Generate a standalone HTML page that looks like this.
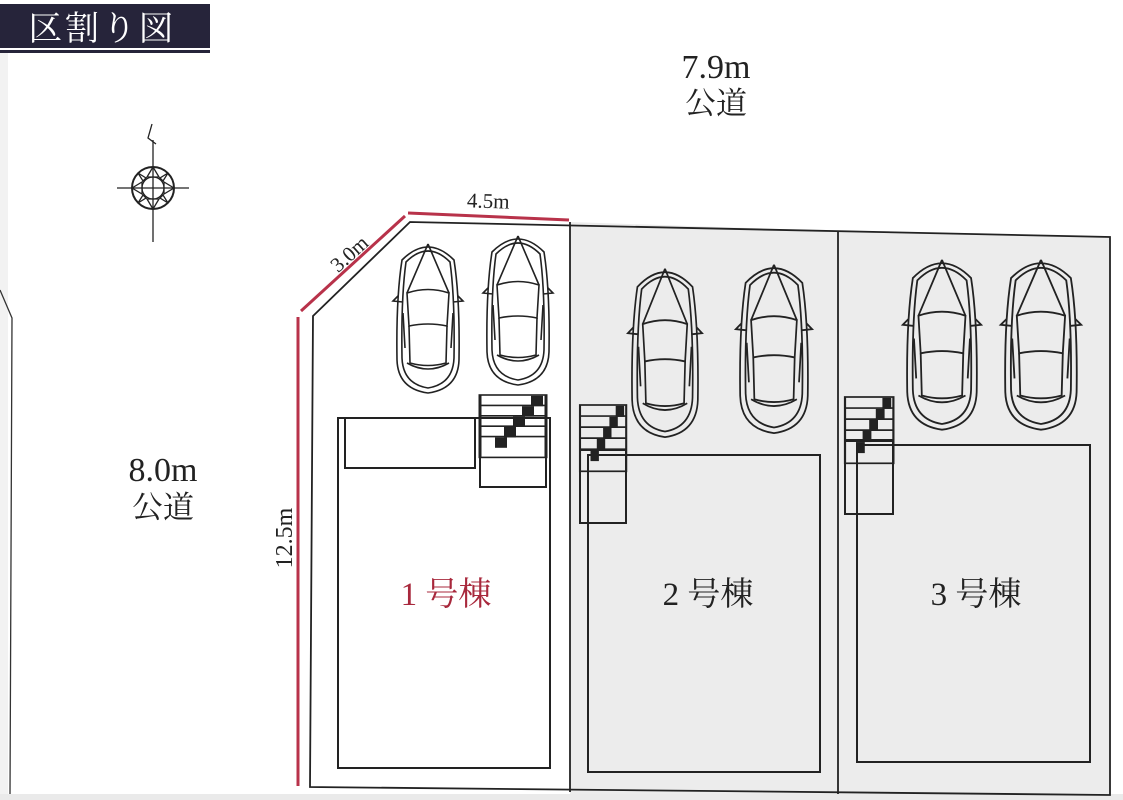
<!DOCTYPE html>
<html><head><meta charset="utf-8"><style>
html,body{margin:0;padding:0;background:#fff;width:1123px;height:800px;overflow:hidden}
svg text{font-family:"Liberation Serif","Noto Serif CJK SC",serif}
.cj{font-family:"Liberation Serif","Noto Serif CJK JP",serif}
</style></head><body>
<svg width="1123" height="800" viewBox="0 0 1123 800" xmlns="http://www.w3.org/2000/svg">
<defs>
<g id="car" fill="none" stroke="#222" stroke-width="1.6">
  <path d="M7,22 Q33,-4 59,22 Q65,60 64,122 Q63,151 33,155 Q3,151 2,122 Q1,60 7,22 Z"/>
  <path d="M11,24 Q33,2 55,24 Q60,60 59,120 Q58,146 33,150 Q8,146 7,120 Q6,60 11,24 Z"/>
  <path d="M33,6 L12,55 M33,6 L54,55"/>
  <path d="M12,55 Q33,48 54,55 L52,88 Q33,84 14,88 Z"/>
  <path d="M14,88 L15,125 Q33,130 51,125 L52,88"/>
  <path d="M12,125 Q33,137 54,125"/>
  <path d="M3,58 L-2,63 L8,64 M63,58 L68,63 L58,64"/>
  <path d="M8,75 L10,110 M58,75 L56,110"/>
</g>
<g id="stairs" fill="none" stroke="#222" stroke-width="2">
  <rect x="0" y="0" width="44" height="78"/>
  <line x1="0" y1="13" x2="44" y2="13"/><line x1="0" y1="26" x2="44" y2="26"/>
  <line x1="0" y1="39" x2="44" y2="39"/><line x1="0" y1="52" x2="44" y2="52"/>
  <rect x="35" y="2" width="6" height="11" fill="#222"/>
  <rect x="29" y="15" width="6" height="11" fill="#222"/>
  <rect x="23" y="28" width="6" height="11" fill="#222"/>
  <rect x="17" y="41" width="6" height="11" fill="#222"/>
  <rect x="11" y="54" width="6" height="11" fill="#222"/>
</g>
</defs>

<rect x="0" y="0" width="8" height="800" fill="#f2f2f2"/>
<path d="M0,290 L12,318 L10,795" fill="none" stroke="#333" stroke-width="1.3"/>
<rect x="0" y="794" width="1123" height="6" fill="#eaeaea"/>

<rect x="0" y="0" width="210" height="52" fill="#fff"/>
<rect x="0" y="4" width="210" height="44" fill="#26243a"/>
<rect x="0" y="50" width="210" height="3" fill="#26243a"/>
<text x="28" y="40" font-size="34" fill="#fff" class="cj" style="letter-spacing:3px">区割り図</text>

<g stroke="#222" fill="none" stroke-width="1.3">
  <line x1="153" y1="140" x2="153" y2="242"/>
  <line x1="117" y1="188" x2="189" y2="188"/>
  <circle cx="153" cy="188" r="21" stroke-width="2"/>
  <circle cx="153" cy="188" r="11"/>
  <path d="M153,167 L147,177 L159,177 Z M153,209 L147,199 L159,199 Z M132,188 L142,182 L142,194 Z M174,188 L164,182 L164,194 Z M138,173 L146,178 L143,181 Z M168,173 L160,178 L163,181 Z M138,203 L146,198 L143,195 Z M168,203 L160,198 L163,195 Z"/>
  <path d="M152,124 L148,138 L156,144"/>
</g>

<text x="716" y="78" font-size="34" fill="#222" text-anchor="middle">7.9m</text>
<text x="716" y="114" font-size="31" fill="#222" text-anchor="middle" class="cj">公道</text>
<text x="163" y="481" font-size="34" fill="#222" text-anchor="middle">8.0m</text>
<text x="163" y="518" font-size="31" fill="#222" text-anchor="middle" class="cj">公道</text>

<polygon points="570,222 838,231 838,794 570,794" fill="#ececec"/>
<polygon points="838,231 1110,237 1110,794 838,794" fill="#ececec"/>
<path d="M313,316 L410,222 L1110,237 L1110,795 L310,787 Z" fill="none" stroke="#222" stroke-width="1.8"/>
<line x1="570" y1="222" x2="570" y2="792" stroke="#222" stroke-width="1.8"/>
<line x1="838" y1="231" x2="838" y2="794" stroke="#222" stroke-width="1.8"/>

<g stroke="#b8324a" stroke-width="3" fill="none">
  <line x1="408" y1="213" x2="569" y2="220"/>
  <line x1="301" y1="311" x2="405" y2="216"/>
  <line x1="298" y1="317" x2="298" y2="786"/>
</g>
<text x="488" y="208" font-size="21" fill="#222" text-anchor="middle" transform="rotate(2 488 208)">4.5m</text>
<text x="354" y="259" font-size="21" fill="#222" text-anchor="middle" transform="rotate(-42 354 259)">3.0m</text>
<text x="292" y="538" font-size="24" fill="#222" text-anchor="middle" transform="rotate(-90 292 538)">12.5m</text>

<g fill="none" stroke="#222" stroke-width="2">
  <rect x="338" y="418" width="212" height="350"/>
  <path d="M345,418 L345,468 L475,468 L475,418"/>
  <rect x="588" y="455" width="232" height="317"/>
  <rect x="857" y="445" width="233" height="317"/>
</g>
<use href="#stairs" transform="translate(480,395) scale(1.5,0.8)"/>
<rect x="480" y="418" width="66" height="69" fill="none" stroke="#222" stroke-width="2"/>
<use href="#stairs" transform="translate(580,405) scale(1.05,0.85)"/>
<rect x="580" y="450" width="46" height="73" fill="none" stroke="#222" stroke-width="2"/>
<use href="#stairs" transform="translate(845,397) scale(1.1,0.85)"/>
<rect x="845" y="440" width="48" height="74" fill="none" stroke="#222" stroke-width="2"/>

<use href="#car" transform="translate(395,238)"/>
<use href="#car" transform="translate(485,230)"/>
<use href="#car" transform="translate(630,262) scale(1.06,1.13)"/>
<use href="#car" transform="translate(738,258) scale(1.09,1.13)"/>
<use href="#car" transform="translate(905,253) scale(1.12,1.14)"/>
<use href="#car" transform="translate(1003,253) scale(1.15,1.14)"/>

<text x="446" y="605" font-size="33" fill="#a8283c" text-anchor="middle" class="cj">1 号棟</text>
<text x="708" y="605" font-size="33" fill="#222" text-anchor="middle" class="cj">2 号棟</text>
<text x="976" y="605" font-size="33" fill="#222" text-anchor="middle" class="cj">3 号棟</text>
</svg>
</body></html>
